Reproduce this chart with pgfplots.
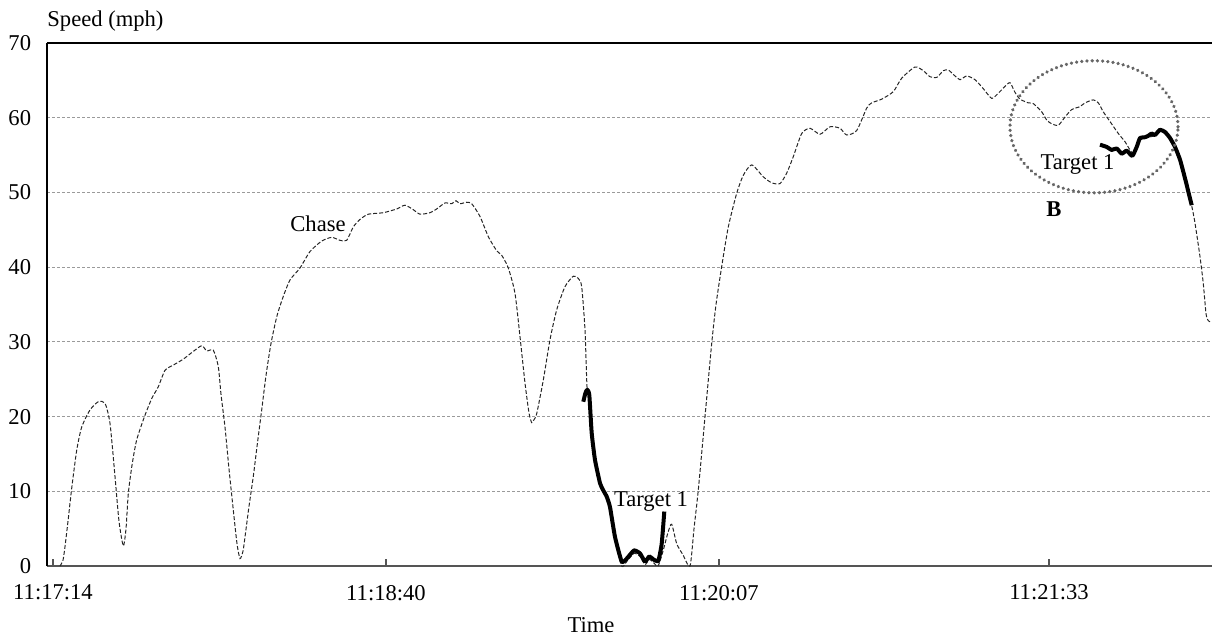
\documentclass[border=0pt]{standalone}
\usepackage{fontspec}
\setmainfont{Liberation Serif}
\usepackage{pgfplots}
\pgfplotsset{compat=1.18}
\definecolor{gridgray}{HTML}{9A9A9A}
\definecolor{axgray}{HTML}{555555}
\definecolor{elgray}{HTML}{666666}
\begin{document}
\fontsize{11.3}{13}\selectfont
\begin{tikzpicture}
\begin{axis}[
  scale only axis,
  width=582.5pt, height=261.5pt,
  xmin=47, xmax=1212, ymin=0, ymax=70,
  clip=false,
  axis x line*=bottom, axis y line*=left,
  x axis line style={axgray, line width=1.1pt},
  y axis line style={black, line width=0.9pt},
  xtick={53,386,719,1049},
  xticklabels={11:17:14,11:18:40,11:20:07,11:21:33},
  xtick align=inside,
  x tick style={axgray, line width=0.6pt},
  major tick length=3.5pt,
  ytick={0,10,...,70},
  y tick style={draw=none},
  /pgf/number format/assume math mode=true,
  yticklabel style={font=\fontsize{11.3}{13}\selectfont, xshift=-4pt},
  xticklabel style={font=\fontsize{11.3}{13}\selectfont, yshift=-5.5pt},
  ymajorgrids,
  grid style={gridgray, dash pattern=on 1.5pt off 1pt, line width=0.5pt},
  xlabel={Time},
  every axis x label/.style={at={(rel axis cs:0.467,0)}, anchor=north, yshift=-25.5pt, inner sep=0pt, font=\fontsize{11.3}{13}\selectfont},
]
\path (axis cs:0,-9.77) rectangle (axis cs:1215,75.77);
\draw[black, line width=0.8pt] (rel axis cs:0,1) -- (rel axis cs:1,1);
\node[anchor=base west, inner sep=0pt] at ([yshift=8.5pt]rel axis cs:0,1) {Speed (mph)};

% Chase
\addplot[black!85, line width=0.5pt, dash pattern=on 2pt off 1pt, smooth, tension=0.4] coordinates {
(60,0) (63,0.8) (65,2.6) (68,6) (71.7,10.4) (76.7,15.5) (81.7,18.6) (90,20.9)
(98.3,22.0) (105,21.8) (110,19.1) (115,12) (119,6) (123.3,2.7) (126,5) (128.3,9.7)
(132,13.5) (136.7,16.9) (145,20.2) (152,22.5) (158.3,24) (165,26.2) (173.3,26.9)
(183.3,27.7) (192,28.6) (201.7,29.5) (206.7,28.8) (213.3,28.9) (218.3,26.7) (221,23)
(225,18.6) (229,13) (233.3,7.5) (237,3) (240,1.0) (243,2) (245,3.9) (249,8)
(253.3,12) (257,16) (261.7,20.9) (266,25.5) (271,29.8) (277,33.5) (283.3,36.1)
(290,38.3) (300,39.9) (310,42.1) (321.7,43.5) (331.7,44.0) (340,43.6) (346.7,43.6)
(353.3,45.4) (360,46.4) (368.3,47.1) (383.3,47.3) (396.7,47.8) (405,48.3) (413.3,47.7)
(420,47.1) (430,47.3) (436.7,47.8) (445,48.6) (451.7,48.5) (456,48.9) (460,48.5)
(466.7,48.7) (471.7,48.5) (480,46.8) (488.3,44.1) (496.7,42.2) (501.7,41.6)
(508.3,39.9) (515,36.5) (520,30.7) (525,24.5) (529,20.5) (531.7,19.2) (534,19.6)
(536.7,20.4) (543.3,24.9) (550,30.3) (556.7,34.3) (565,37.4) (573.3,38.8)
(578.3,38.5) (581.7,37.4) (585,31.6) (587,24) (589,23) (592,17.8) (595,14.2)
(600,11.1) (606.7,9.3) (610,7.9) (615,3.5) (621.7,0) (626.7,0.6) (634,1.7) (640,1.3)
(645,0.2) (649.3,0.9) (653.3,0.5) (658,0) (663,2) (668,4.5) (671.7,5.6) (676.7,3.0)
(683,1.5) (690,0) (694,5) (698.3,10.2) (705,20) (711.7,29.8) (716,35) (721.7,40.1)
(728.3,45.4) (736.7,49.9) (743.3,52.3) (751.7,53.7) (763.3,52.1) (771.7,51.3)
(780,51.2) (786.7,52.6) (793.3,54.8) (801.7,57.9) (810,58.6) (820,57.8) (830,58.8)
(840,58.6) (846.7,57.7) (856.7,58.3) (866.7,61.3) (871.7,62) (881.7,62.5)
(893.3,63.5) (901.7,65.3) (915,66.8) (923.3,66.3) (930,65.5) (936.7,65.4)
(943.3,66.3) (948.3,66.4) (955,65.6) (960,65.1) (966.7,65.6) (975,65.1) (983.3,63.9)
(991.7,62.6) (998.3,63.3) (1005,64.2) (1010,64.7) (1015,63.4) (1020,62.5)
(1028.3,62.0) (1033.3,61.9) (1041.7,60.8) (1046.7,59.7) (1051.7,59.2) (1058.3,59.0)
(1065,60.1) (1071.7,61.1) (1080,61.5) (1085,62.0) (1093.3,62.4) (1098.3,62.0)
(1103.3,60.8) (1110,59.5) (1118.3,57.9) (1125,56.8) (1130,55.7) (1134,55.2)
(1140,57.0) (1148,57.4) (1155,57.6) (1160,58.2) (1165,58.0) (1170,57.2) (1175,56.0)
(1180,54.3) (1185,51.8) (1191.7,48.2) (1195,45.9) (1200,41.4) (1203.3,37.8)
(1206,33.8) (1208,32.9) (1210,32.7)
};

% Target 1, first segment
\addplot[black, line width=2pt, smooth, tension=0.3, line join=round] coordinates {
(583.3,22.0) (585.5,23.2) (587.3,23.6) (589.3,22.9) (591.7,17.8) (595,14.2)
(600,11.1) (603,10.2) (606.7,9.3) (610,7.9) (615,3.9) (621.7,0.6) (626.7,1.0)
(634,2.1) (640,1.7) (645,0.6) (649.3,1.3) (653.3,0.9) (658.3,0.7) (661.7,3.0)
(664.3,7.3)
};

% Target 1, second segment
\addplot[black, line width=2pt, smooth, tension=0.3, line join=round] coordinates {
(1100,56.4) (1106.7,56.1) (1111.7,55.7) (1116.7,55.9) (1121.7,55.2) (1126.7,55.6)
(1132.3,54.9) (1136.7,56.1) (1140,57.3) (1145,57.4) (1148.3,57.6) (1151.7,57.9)
(1155,57.7) (1160,58.4) (1165,58.1) (1170,57.3) (1175,56.1) (1180,54.4)
(1185,51.9) (1191.7,48.3)
};

\draw[elgray, line width=1.8pt, line cap=round, dash pattern=on 0.01pt off 2.6pt]
  (axis cs:1094,58.8) ellipse [x radius=84, y radius=8.84];

\node at (axis cs:318,45.8) {Chase};
\node at (axis cs:651,8.6) {Target 1};
\node at (axis cs:1077.5,53.8) {Target 1};
\node at (axis cs:1054,47.8) {\textbf{B}};
\end{axis}
\end{tikzpicture}
\end{document}
